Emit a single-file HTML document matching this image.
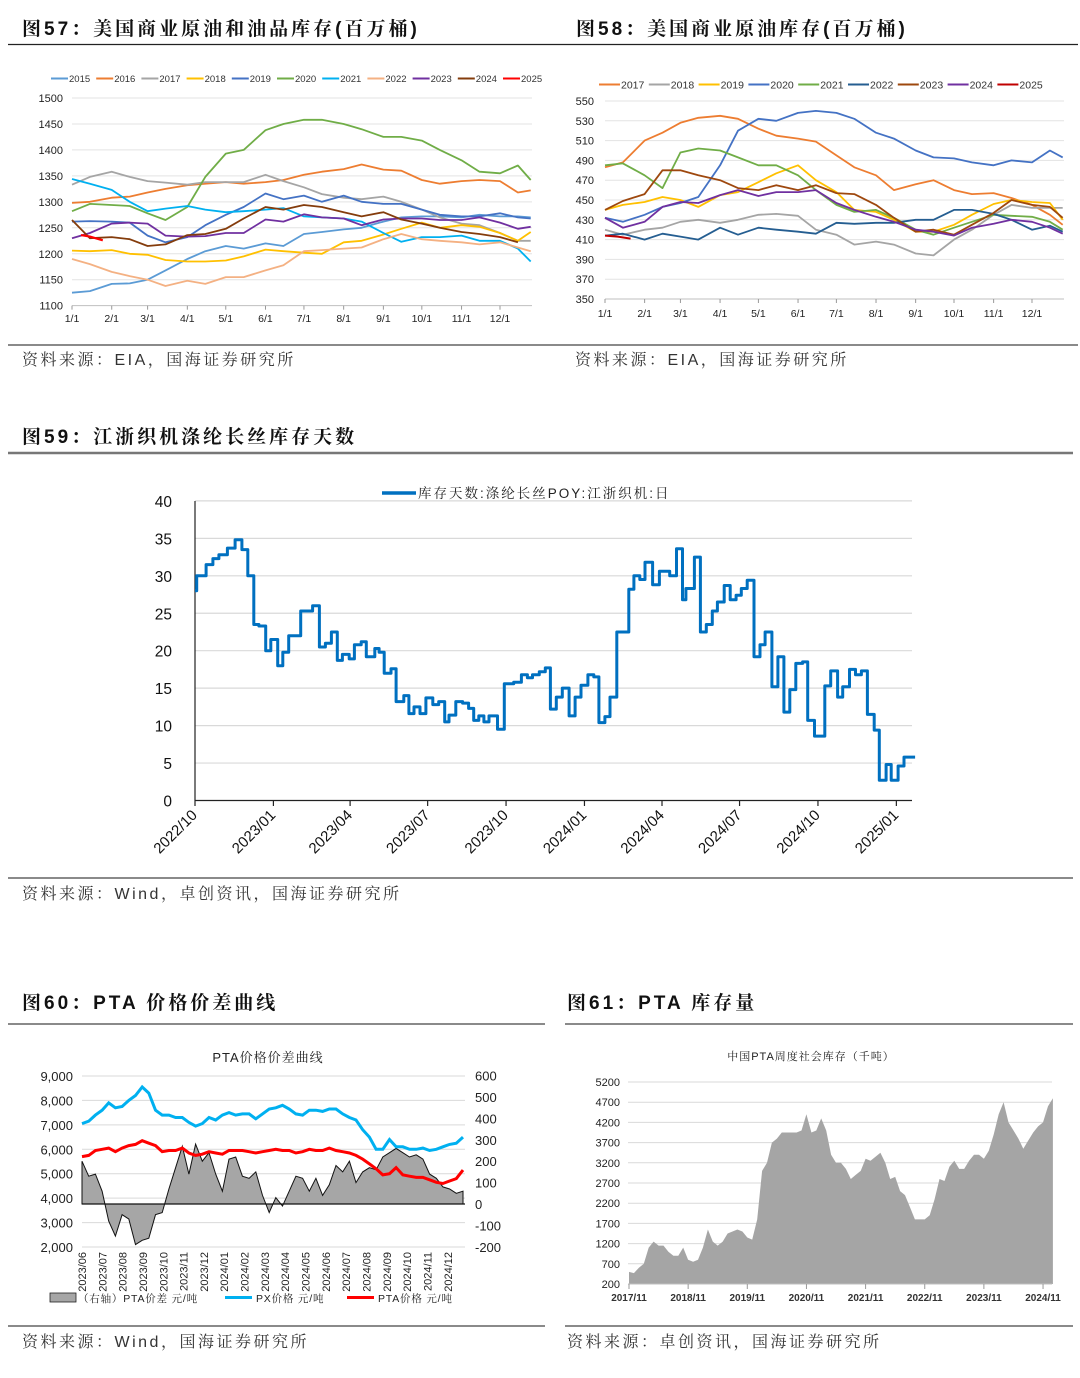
<!DOCTYPE html>
<html><head><meta charset="utf-8">
<style>
html,body{margin:0;padding:0;background:#fff;}
svg{display:block;font-family:"Liberation Sans","Noto Sans CJK SC",sans-serif;}
.ttl{font-family:"Liberation Sans","Noto Serif CJK SC",serif;font-weight:bold;font-size:19px;fill:#111;letter-spacing:3px;}
.src{font-family:"Liberation Sans","Noto Serif CJK SC",serif;font-size:16px;fill:#333;letter-spacing:2.5px;}
</style></head>
<body>
<svg id="page" xmlns="http://www.w3.org/2000/svg" width="1080" height="1378" viewBox="0 0 1080 1378">
<rect width="1080" height="1378" fill="#fff"/>
<text class="ttl" x="22" y="35">图57：美国商业原油和油品库存(百万桶)</text>
<text class="ttl" x="576" y="35">图58：美国商业原油库存(百万桶)</text>
<line x1="8" y1="44.5" x2="1078" y2="44.5" stroke="#222" stroke-width="1.3"/>
<line x1="8" y1="345" x2="1078" y2="345" stroke="#444" stroke-width="1.3"/>
<text class="src" x="22" y="365">资料来源：EIA，国海证券研究所</text>
<text class="src" x="575" y="365">资料来源：EIA，国海证券研究所</text>

<text class="ttl" x="22" y="443">图59：江浙织机涤纶长丝库存天数</text>
<line x1="8" y1="453" x2="1073" y2="453" stroke="#777" stroke-width="2.5"/>
<line x1="8" y1="878" x2="1073" y2="878" stroke="#444" stroke-width="1.3"/>
<text class="src" x="22" y="899">资料来源：Wind，卓创资讯，国海证券研究所</text>

<text class="ttl" x="22" y="1009">图60：PTA 价格价差曲线</text>
<text class="ttl" x="567" y="1009">图61：PTA 库存量</text>
<line x1="8" y1="1024" x2="545" y2="1024" stroke="#444" stroke-width="1.3"/>
<line x1="565" y1="1024" x2="1073" y2="1024" stroke="#444" stroke-width="1.3"/>
<line x1="8" y1="1326" x2="545" y2="1326" stroke="#444" stroke-width="1.3"/>
<line x1="565" y1="1326" x2="1073" y2="1326" stroke="#444" stroke-width="1.3"/>
<text class="src" x="22" y="1347">资料来源：Wind，国海证券研究所</text>
<text class="src" x="567" y="1347">资料来源：卓创资讯，国海证券研究所</text>
</svg>
<script>
// ---------- Fig 57 data ----------
const f57Days = [0,14,31,45,59,73,90,104,120,134,151,165,181,195,212,226,243,257,273,287,304,318,334,348,358];
const f57Years = ["2015","2016","2017","2018","2019","2020","2021","2022","2023","2024","2025"];
const f57Colors = ["#5B9BD5","#ED7D31","#A5A5A5","#FFC000","#4472C4","#70AD47","#00B0F0","#F4B183","#7030A0","#843C0C","#FF0000"];
const f57_2015 = [1125,1128,1142,1143,1150,1168,1190,1205,1215,1210,1220,1215,1238,1242,1247,1250,1262,1270,1272,1272,1270,1275,1272,1272,1270];
const f57_2016 = [1298,1300,1308,1310,1318,1325,1332,1335,1338,1335,1338,1342,1352,1358,1363,1372,1362,1360,1342,1335,1340,1342,1340,1318,1322];
const f57_2017 = [1333,1348,1358,1348,1340,1337,1333,1338,1338,1338,1352,1340,1328,1315,1308,1305,1310,1300,1285,1270,1258,1255,1240,1225,1225];
const f57_2018 = [1206,1205,1207,1200,1198,1188,1185,1185,1187,1195,1208,1205,1202,1200,1222,1225,1237,1248,1260,1250,1255,1252,1240,1225,1242];
const f57_2019 = [1262,1263,1262,1260,1235,1222,1232,1255,1275,1290,1316,1305,1312,1300,1312,1300,1296,1296,1285,1275,1272,1272,1278,1270,1268];
const f57_2020 = [1282,1296,1294,1292,1278,1265,1290,1348,1393,1400,1438,1450,1458,1458,1450,1440,1425,1425,1418,1400,1380,1358,1355,1370,1342];
const f57_2021 = [1344,1335,1323,1300,1282,1287,1292,1285,1280,1282,1285,1288,1272,1270,1268,1262,1240,1223,1232,1232,1235,1225,1225,1210,1185];
const f57_2022 = [1190,1180,1165,1157,1150,1138,1148,1142,1155,1155,1168,1178,1205,1207,1210,1212,1228,1238,1228,1225,1222,1218,1222,1212,1205];
const f57_2023 = [1230,1240,1258,1260,1258,1235,1233,1234,1240,1240,1266,1262,1276,1270,1268,1255,1266,1268,1268,1265,1265,1270,1260,1248,1252];
const f57_2024 = [1265,1230,1232,1228,1215,1218,1236,1238,1248,1268,1290,1285,1294,1290,1280,1272,1280,1266,1258,1250,1242,1238,1232,1222];
const f57_2025Days = [7,14,24];
const f57_2025 = [1236,1233,1226];
const f57Ticks = [1100,1150,1200,1250,1300,1350,1400,1450,1500];
const monthLabels = ["1/1","2/1","3/1","4/1","5/1","6/1","7/1","8/1","9/1","10/1","11/1","12/1"];
const monthDays = [0,31,59,90,120,151,181,212,243,273,304,334];

// ---------- Fig 58 data ----------
const f58Years = ["2017","2018","2019","2020","2021","2022","2023","2024","2025"];
const f58Colors = ["#ED7D31","#A5A5A5","#FFC000","#4472C4","#70AD47","#255E91","#9E480E","#7030A0","#C00000"];
const f58_2017 = [483,488,510,518,528,533,535,532,522,515,512,509,495,483,475,460,466,470,460,456,457,452,445,435,425];
const f58_2018 = [420,415,420,422,428,430,427,430,435,436,434,420,415,405,408,405,396,394,410,420,435,445,442,442,442];
const f58_2019 = [440,445,448,453,450,443,455,458,468,477,485,470,458,440,438,430,418,418,425,435,446,450,448,447,430];
const f58_2020 = [432,428,435,443,447,453,485,520,532,530,538,540,538,532,518,512,500,493,492,488,485,490,488,500,493];
const f58_2021 = [485,487,475,462,498,502,500,493,485,485,475,460,445,438,440,432,420,415,422,428,435,434,433,428,420];
const f58_2022 = [414,416,410,416,413,410,422,415,422,420,418,416,427,426,427,427,430,430,440,440,436,430,420,424,418];
const f58_2023 = [440,449,456,480,480,475,470,462,460,465,460,465,457,456,445,432,418,420,415,425,437,450,445,443,432];
const f58_2024 = [432,422,428,443,448,447,455,460,454,458,458,460,447,440,433,428,420,418,414,422,426,430,428,422,416];
const f58_2025Days = [0,10,20];
const f58_2025 = [414,413,411];
const f58Ticks = [350,370,390,410,430,450,470,490,510,530,550];

// ---------- Fig 59 data (days since 2022-10-01) ----------
const f59Days = [0,2,13,21,28,38,47,55,62,69,75,83,89,97,103,110,124,138,146,153,160,167,173,181,187,195,201,211,216,222,230,236,245,251,257,264,271,279,286,293,298,306,314,321,327,333,339,345,355,363,374,383,390,396,404,411,417,424,431,439,446,453,461,468,474,481,487,495,509,515,522,528,537,545,557,565,572,576,586,593,600,607,613,621,628,635,641,648,656,663,669,677,684,691,698,705,713,719,727,739,746,754,760,768,775,782,789,797,803,811,817,825,832];
const f59Values = [28,30,31.5,32.3,32.8,33.7,34.8,33.5,30,23.5,23.3,20,21.5,18,19.8,22,25.3,26,20.5,21,22.5,18.7,19.5,18.9,20.8,21.2,19.2,20.3,19.8,17,17.6,13.2,14,11.6,12.5,11.6,13.7,12.8,13.2,10.5,11.4,13.2,13,12.3,10.7,11.3,10.5,11.3,9.5,15.6,15.8,16.8,16.4,16.8,17.2,17.7,12.2,13.8,15,11.3,13.8,15.4,16.8,16.5,10.4,11.2,13.8,22.5,28.2,30,29.5,31.8,28.8,30.6,30,33.6,26.8,28.3,32.5,22.5,23.5,25.3,26.5,28.7,26.8,27.4,28.3,29.4,19.2,20.8,22.5,15.2,19.2,11.8,14.8,18.3,18.5,10.7,8.6,15.3,17.3,13.8,15.2,17.5,16.8,17.3,11.5,9.4,2.7,4.8,2.7,4.6,5.8];
const f59EndDay = 845;
const f59Ticks = [0,5,10,15,20,25,30,35,40];
const f59QuarterLabels = ["2022/10","2023/01","2023/04","2023/07","2023/10","2024/01","2024/04","2024/07","2024/10","2025/01"];
const f59QuarterDays = [0,92,182,273,365,457,548,639,731,823];

// ---------- Fig 60 data (10-day steps from 2023-06-01) ----------
const f60Spread = [200,130,140,60,-80,-150,-50,-70,-190,-170,-160,-50,-40,70,170,270,140,280,200,240,140,60,210,220,130,120,150,40,-40,30,-10,60,130,120,60,120,40,90,180,150,200,100,150,170,160,220,240,260,240,220,230,210,140,120,80,70,50,60];
const f60PX = [7050,7150,7400,7600,7900,7700,7750,8000,8200,8550,8300,7600,7400,7400,7300,7300,7100,6950,7050,7300,7200,7400,7500,7400,7450,7450,7250,7450,7650,7700,7800,7650,7450,7400,7600,7600,7550,7650,7650,7450,7300,7200,6800,6500,6000,6000,6400,6100,6100,6000,6000,6050,5950,6000,6100,6200,6250,6500];
const f60PTA = [5700,5750,5950,6000,6050,5900,6050,6150,6200,6350,6250,6150,5900,5950,5950,6050,5850,5750,5800,5900,5850,5800,5950,5950,5950,5900,5850,5900,5950,6000,5950,5950,5850,5900,6000,5950,5950,6050,5950,5900,5850,5750,5600,5400,5200,4950,5000,5250,4950,4900,4850,4850,4750,4650,4600,4700,4800,5150];
const f60LeftTicks = [2000,3000,4000,5000,6000,7000,8000,9000];
const f60RightTicks = [-200,-100,0,100,200,300,400,500,600];
const f60Months = ["2023/06","2023/07","2023/08","2023/09","2023/10","2023/11","2023/12","2024/01","2024/02","2024/03","2024/04","2024/05","2024/06","2024/07","2024/08","2024/09","2024/10","2024/11","2024/12"];

// ---------- Fig 61 data (monthly from 2017/11) ----------
const f61Values = [500,470,600,700,1100,1250,1150,1150,1000,900,900,1100,800,750,800,1100,1550,1250,1150,1250,1450,1500,1550,1500,1350,1300,1800,3000,3200,3700,3800,3950,3950,3950,3950,4000,4400,3950,4000,4300,4000,3400,3200,3200,3050,2800,2900,3000,3300,3250,3350,3450,3200,2800,2850,2500,2400,2100,1800,1800,1800,1900,2300,2800,2750,3100,3250,3050,3050,3250,3400,3400,3300,3500,3900,4400,4700,4200,4000,3800,3550,3750,3950,4100,4200,4600,4800];
const f61Ticks = [200,700,1200,1700,2200,2700,3200,3700,4200,4700,5200];
const f61XLabels = ["2017/11","2018/11","2019/11","2020/11","2021/11","2022/11","2023/11","2024/11"];

const NS = "http://www.w3.org/2000/svg";
const svg = document.getElementById('page');
function mk(tag, attrs, parent) {
  const e = document.createElementNS(NS, tag);
  for (const k in attrs) e.setAttribute(k, attrs[k]);
  (parent || svg).appendChild(e);
  return e;
}
function txt(str, attrs, parent) { const e = mk('text', attrs, parent); e.textContent = str; return e; }
function poly(xs, ys) { return xs.map((x, i) => (i ? 'L' : 'M') + x.toFixed(1) + ' ' + ys[i].toFixed(1)).join(' '); }
const SERIF = '"Liberation Sans","Noto Serif CJK SC",serif';

// ================= Fig 57 =================
const x57 = d => 72 + d * 1.2814;
const y57 = v => 98 + (1500 - v) * 0.5192;
const g57 = mk('g', {});


f57Ticks.forEach(t => {
  const gl = mk('line', {x1: 72, x2: 532, y1: y57(t), y2: y57(t), stroke: t === 1100 ? '#bfbfbf' : '#e3e3e3', 'stroke-width': 1}, g57);
  
  
  const tl = txt(String(t), {x: 63, y: y57(t) + 4, 'text-anchor': 'end', 'font-size': 11, fill: '#222'}, g57);
  
  
});
monthLabels.forEach((m, i) => {
  const tl = txt(m, {x: x57(monthDays[i]), y: 322, 'text-anchor': 'middle', 'font-size': 10.5, fill: '#222'}, g57);
  
  
  const tk = mk('line', {x1: x57(monthDays[i]), x2: x57(monthDays[i]), y1: y57(1100), y2: y57(1100) + 4, stroke: '#999'}, g57);
  
  
});
const f57Series = [f57_2015, f57_2016, f57_2017, f57_2018, f57_2019, f57_2020, f57_2021, f57_2022, f57_2023, f57_2024];
f57Series.forEach((s, i) => {
  const p = mk('path', {d: poly(s.map((v, j) => x57(f57Days[j])), s.map(y57)), fill: 'none', stroke: f57Colors[i], 'stroke-width': 1.8, 'stroke-linejoin': 'round'}, g57);
  
  
});
{
  const p = mk('path', {d: poly(f57_2025Days.map(x57), f57_2025.map(y57)), fill: 'none', stroke: '#FF0000', 'stroke-width': 2.2}, g57);
  
  
}
f57Years.forEach((yr, i) => {
  const lx = 51 + i * 45.2;
  const ll = mk('line', {x1: lx, x2: lx + 17, y1: 78.5, y2: 78.5, stroke: f57Colors[i], 'stroke-width': 2}, g57);
  
  
  const lt = txt(yr, {x: lx + 18, y: 82, 'font-size': 9.5, fill: '#333'}, g57);
  
  
});

// ================= Fig 58 =================
const x58 = d => 605 + d * 1.2784;
const y58 = v => 101 + (550 - v) * 0.99;
const g58 = mk('g', {});


f58Ticks.forEach(t => {
  const gl = mk('line', {x1: 605, x2: 1064, y1: y58(t), y2: y58(t), stroke: t === 350 ? '#bfbfbf' : '#e3e3e3', 'stroke-width': 1}, g58);
  
  
  const tl = txt(String(t), {x: 594, y: y58(t) + 4, 'text-anchor': 'end', 'font-size': 11, fill: '#222'}, g58);
  
  
});
monthLabels.forEach((m, i) => {
  const tl = txt(m, {x: x58(monthDays[i]), y: 317, 'text-anchor': 'middle', 'font-size': 10.5, fill: '#222'}, g58);
  
  
  const tk = mk('line', {x1: x58(monthDays[i]), x2: x58(monthDays[i]), y1: y58(350), y2: y58(350) + 4, stroke: '#999'}, g58);
  
  
});
const f58Series = [f58_2017, f58_2018, f58_2019, f58_2020, f58_2021, f58_2022, f58_2023, f58_2024];
f58Series.forEach((s, i) => {
  const p = mk('path', {d: poly(s.map((v, j) => x58(f57Days[j])), s.map(y58)), fill: 'none', stroke: f58Colors[i], 'stroke-width': 1.8, 'stroke-linejoin': 'round'}, g58);
  
  
});
{
  const p = mk('path', {d: poly(f58_2025Days.map(x58), f58_2025.map(y58)), fill: 'none', stroke: '#C00000', 'stroke-width': 2}, g58);
  
  
}
f58Years.forEach((yr, i) => {
  const lx = 599 + i * 49.8;
  const ll = mk('line', {x1: lx, x2: lx + 21, y1: 84.5, y2: 84.5, stroke: f58Colors[i], 'stroke-width': 2}, g58);
  
  
  const lt = txt(yr, {x: lx + 22, y: 88.5, 'font-size': 10.5, fill: '#333'}, g58);
  
  
});

// ================= Fig 59 =================
const x59 = d => 195 + d * 0.8522;
const y59 = v => 800.5 - v * 7.49;
const g59 = mk('g', {});


f59Ticks.forEach(t => {
  if (t > 0) {
    const gl = mk('line', {x1: 195, x2: 912, y1: y59(t), y2: y59(t), stroke: '#d9d9d9', 'stroke-width': 1.2}, g59);
    
    
  }
  const tl = txt(String(t), {x: 172, y: y59(t) + 6, 'text-anchor': 'end', 'font-size': 15.5, fill: '#111'}, g59);
  
  
});
{
  const ax = mk('line', {x1: 195, x2: 912, y1: 800.5, y2: 800.5, stroke: '#222', 'stroke-width': 1.2}, g59);
  
  
  const ay = mk('line', {x1: 195, x2: 195, y1: 501, y2: 800.5, stroke: '#222', 'stroke-width': 1.2}, g59);
  
  
}
f59QuarterLabels.forEach((q, i) => {
  const x = x59(f59QuarterDays[i]);
  const tk = mk('line', {x1: x, x2: x, y1: 800.5, y2: 806, stroke: '#222', 'stroke-width': 1.2}, g59);
  
  
  const tl = txt(q, {x: x + 3, y: 816, 'text-anchor': 'end', 'font-size': 15, fill: '#111', transform: 'rotate(-45 ' + (x + 3) + ' 816)'}, g59);
  
  
});
{
  let d = 'M' + x59(f59Days[0]).toFixed(1) + ' ' + y59(f59Values[0]).toFixed(1);
  for (let i = 1; i < f59Days.length; i++) {
    d += ' H' + x59(f59Days[i]).toFixed(1) + ' V' + y59(f59Values[i]).toFixed(1);
  }
  d += ' H' + x59(f59EndDay).toFixed(1);
  const p = mk('path', {d: d, fill: 'none', stroke: '#0070C0', 'stroke-width': 3, 'stroke-linejoin': 'round'}, g59);
  
  
  const ll = mk('line', {x1: 382, x2: 416, y1: 493, y2: 493, stroke: '#0070C0', 'stroke-width': 3.5}, g59);
  
  
  const lt = txt('库存天数:涤纶长丝POY:江浙织机:日', {x: 418, y: 498, 'font-size': 13.5, fill: '#222', 'font-family': SERIF, 'letter-spacing': 2}, g59);
  
  
}

// ================= Fig 60 =================
const x60 = i => 82 + i * 10 * 0.6684;
const yL = v => 1076 + (9000 - v) * 0.02443;
const yR = v => 1204 - v * 0.2138;
const g60 = mk('g', {});


{
  const t = txt('PTA价格价差曲线', {x: 268, y: 1062, 'text-anchor': 'middle', 'font-size': 13, fill: '#222', 'font-family': SERIF, 'letter-spacing': 1}, g60);
  
  
}
f60LeftTicks.forEach(t => {
  const gl = mk('line', {x1: 82, x2: 465, y1: yL(t), y2: yL(t), stroke: '#d9d9d9', 'stroke-width': 1}, g60);
  
  
  const tl = txt(t.toLocaleString('en-US'), {x: 73, y: yL(t) + 5, 'text-anchor': 'end', 'font-size': 13, fill: '#222'}, g60);
  
  
});
f60RightTicks.forEach(t => {
  const tl = txt(String(t), {x: 475, y: yR(t) + 5, 'font-size': 13, fill: '#222'}, g60);
  
  
});
{
  const xs = f60Spread.map((v, i) => x60(i));
  const d = 'M' + xs[0].toFixed(1) + ' ' + yR(0).toFixed(1) + ' ' + poly(xs, f60Spread.map(yR)).replace(/^M/, 'L') + ' L' + xs[xs.length - 1].toFixed(1) + ' ' + yR(0).toFixed(1) + ' Z';
  const a = mk('path', {d: d, fill: '#A6A6A6', stroke: '#111', 'stroke-width': 1}, g60);
  
  
  const b = mk('line', {x1: 82, x2: 465, y1: yR(0), y2: yR(0), stroke: '#111', 'stroke-width': 1.2}, g60);
  
  
  const px = mk('path', {d: poly(f60PX.map((v, i) => x60(i)), f60PX.map(yL)), fill: 'none', stroke: '#00B0F0', 'stroke-width': 3}, g60);
  
  
  const pt = mk('path', {d: poly(f60PTA.map((v, i) => x60(i)), f60PTA.map(yL)), fill: 'none', stroke: '#FF0000', 'stroke-width': 3}, g60);
  
  
}
f60Months.forEach((m, i) => {
  const x = 82 + i * 20.32;
  const tl = txt(m, {x: x + 4, y: 1252, 'text-anchor': 'end', 'font-size': 11, fill: '#222', transform: 'rotate(-90 ' + (x + 4) + ' 1252)'}, g60);
  
  
});
{
  const s1 = mk('rect', {x: 50, y: 1293, width: 26, height: 9, fill: '#A6A6A6', stroke: '#222', 'stroke-width': 0.8}, g60);
  
  
  const t1 = txt('（右轴）PTA价差 元/吨', {x: 78, y: 1302, 'font-size': 10.5, fill: '#222', 'font-family': SERIF, 'letter-spacing': 0.8}, g60);
  
  
  const s2 = mk('line', {x1: 225, x2: 252, y1: 1297.5, y2: 1297.5, stroke: '#00B0F0', 'stroke-width': 3}, g60);
  
  
  const t2 = txt('PX价格 元/吨', {x: 256, y: 1302, 'font-size': 10.5, fill: '#222', 'font-family': SERIF, 'letter-spacing': 0.8}, g60);
  
  
  const s3 = mk('line', {x1: 347, x2: 374, y1: 1297.5, y2: 1297.5, stroke: '#FF0000', 'stroke-width': 3}, g60);
  
  
  const t3 = txt('PTA价格 元/吨', {x: 378, y: 1302, 'font-size': 10.5, fill: '#222', 'font-family': SERIF, 'letter-spacing': 0.8}, g60);
  
  
}

// ================= Fig 61 =================
const x61 = k => 629 + k * 4.929;
const y61 = v => 1284 - (v - 200) * 0.0404;
const g61 = mk('g', {});


{
  const t = txt('中国PTA周度社会库存（千吨）', {x: 811, y: 1060, 'text-anchor': 'middle', 'font-size': 11, fill: '#222', 'font-family': SERIF, 'letter-spacing': 1}, g61);
  
  
}
f61Ticks.forEach(t => {
  const gl = mk('line', {x1: 628, x2: 1052, y1: y61(t), y2: y61(t), stroke: '#d9d9d9', 'stroke-width': 1}, g61);
  
  
  const tl = txt(String(t), {x: 620, y: y61(t) + 4, 'text-anchor': 'end', 'font-size': 11, fill: '#222'}, g61);
  
  
});
{
  const xs = f61Values.map((v, k) => x61(k));
  const d = 'M' + xs[0].toFixed(1) + ' ' + y61(200).toFixed(1) + ' ' + poly(xs, f61Values.map(y61)).replace(/^M/, 'L') + ' L' + xs[xs.length - 1].toFixed(1) + ' ' + y61(200).toFixed(1) + ' Z';
  const a = mk('path', {d: d, fill: '#A5A5A5'}, g61);
  
  
  const ax = mk('line', {x1: 628, x2: 1052, y1: y61(200), y2: y61(200), stroke: '#bfbfbf'}, g61);
  
  
}
f61XLabels.forEach((m, i) => {
  const x = x61(i * 12);
  const tk = mk('line', {x1: x, x2: x, y1: 1284, y2: 1289, stroke: '#999'}, g61);
  
  
  const tl = txt(m, {x: x, y: 1301, 'text-anchor': 'middle', 'font-size': 10, 'font-weight': 'bold', fill: '#333'}, g61);
  
  
});
</script>
</body></html>
